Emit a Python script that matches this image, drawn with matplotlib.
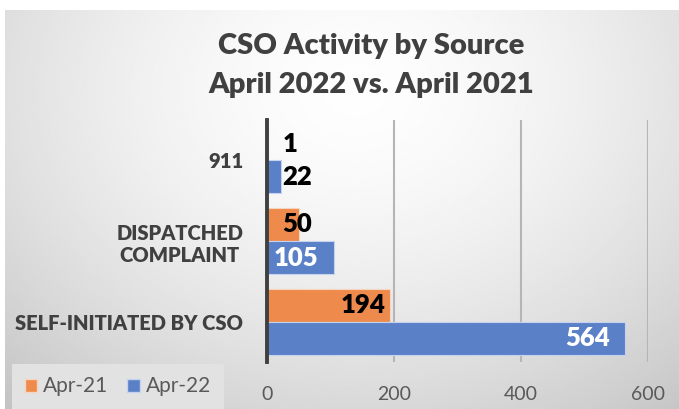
import numpy as np
import matplotlib
matplotlib.use("Agg")
import matplotlib.pyplot as plt
from matplotlib.patches import Patch

plt.rcParams["font.family"] = ["Lato", "DejaVu Sans"]

# data (bottom to top on the chart)
categories = ["SELF-INITIATED BY CSO", "DISPATCHED\nCOMPLAINT", "911"]
apr21 = [194, 50, 1]
apr22 = [564, 105, 22]
xticks = [0, 200, 400, 600]

ORANGE = "#ED8A4C"
BLUE = "#5A80C8"
DARK = "#404040"
BOLD = "heavy"

W, H = 679, 409
fig = plt.figure(figsize=(W / 100, H / 100), dpi=100)
fig.patch.set_facecolor("white")

# radial gray gradient background of the chart area
bg = fig.add_axes([5 / W, 0, 674 / W, 399 / H])
yy, xx = np.mgrid[0:1:200j, 0:1:300j]
r = np.sqrt(((xx - 0.52) / 0.75) ** 2 + ((yy - 0.2) / 1.0) ** 2)
shade = 0.995 - 0.21 * np.clip(r, 0, 1.2) ** 1.6
bg.imshow(shade, cmap="gray", vmin=0, vmax=1, aspect="auto",
          extent=[0, 1, 0, 1], origin="upper", interpolation="bilinear")
bg.axis("off")

ax = fig.add_axes([267 / W, 1 - 362 / H, 381 / W, 242 / H])
ax.patch.set_alpha(0)
y = np.arange(len(categories))
h = 0.41
ax.barh(y + h / 2, apr21, height=h, color=ORANGE, edgecolor="#f6d5c0",
        linewidth=0.8, label="Apr-21", zorder=3)
ax.barh(y - h / 2, apr22, height=h, color=BLUE, edgecolor="#c6d3ee",
        linewidth=0.8, label="Apr-22", zorder=3)

ax.set_xlim(0, 600)
ax.set_ylim(-0.5, len(categories) - 0.5)
ax.set_xticks(xticks)
ax.set_xticklabels([str(t) for t in xticks])
ax.tick_params(axis="x", length=0, pad=17, labelsize=14, labelcolor="#595959")
ax.set_yticks(y)
ax.set_yticklabels(categories, fontweight=BOLD, fontsize=14.5, color=DARK,
                   multialignment="center")
ax.tick_params(axis="y", length=0, pad=17)
ax.grid(axis="x", color="#b5b5b5", linewidth=1.5, zorder=0)
for s in ["top", "right", "bottom"]:
    ax.spines[s].set_visible(False)
ax.spines["left"].set_color(DARK)
ax.spines["left"].set_linewidth(2.8)
ax.spines["left"].set_zorder(4)

# data labels: small values outside in black, long bars inside
for yi, v in zip(y + h / 2, apr21):
    if v < 100:
        ax.text(24, yi, str(v), ha="left", va="center", fontsize=18.5,
                fontweight=BOLD, color="black", zorder=5)
    else:
        ax.text(v - 8, yi, str(v), ha="right", va="center", fontsize=18.5,
                fontweight=BOLD, color="black", zorder=5)
for yi, v in zip(y - h / 2, apr22):
    if v < 50:
        ax.text(24, yi, str(v), ha="left", va="center", fontsize=18.5,
                fontweight=BOLD, color="black", zorder=5)
    else:
        ax.text(v - 24, yi, str(v), ha="right", va="center", fontsize=18.5,
                fontweight=BOLD, color="white", zorder=5)

fig.text(371 / W, 1 - 46 / H, "CSO Activity by Source", ha="center",
         va="center", fontsize=21, fontweight=BOLD, color=DARK)
fig.text(371 / W, 1 - 85 / H, "April 2022 vs. April 2021", ha="center",
         va="center", fontsize=21, fontweight=BOLD, color=DARK)

handles = [Patch(facecolor=ORANGE, edgecolor="#f6d5c0", label="Apr-21"),
           Patch(facecolor=BLUE, edgecolor="#c6d3ee", label="Apr-22")]
leg = fig.legend(handles=handles, loc="lower left",
                 bbox_to_anchor=(12 / W, 0), borderaxespad=0, ncol=2,
                 frameon=True, fontsize=15, handlelength=0.6,
                 handleheight=0.6, handletextpad=0.3, columnspacing=0.9,
                 borderpad=0.6, fancybox=False, labelcolor="#595959")
leg.get_frame().set_facecolor("#e2e2e2")
leg.get_frame().set_edgecolor("none")
leg.get_frame().set_alpha(1)

fig.savefig("out.png", dpi=100)
